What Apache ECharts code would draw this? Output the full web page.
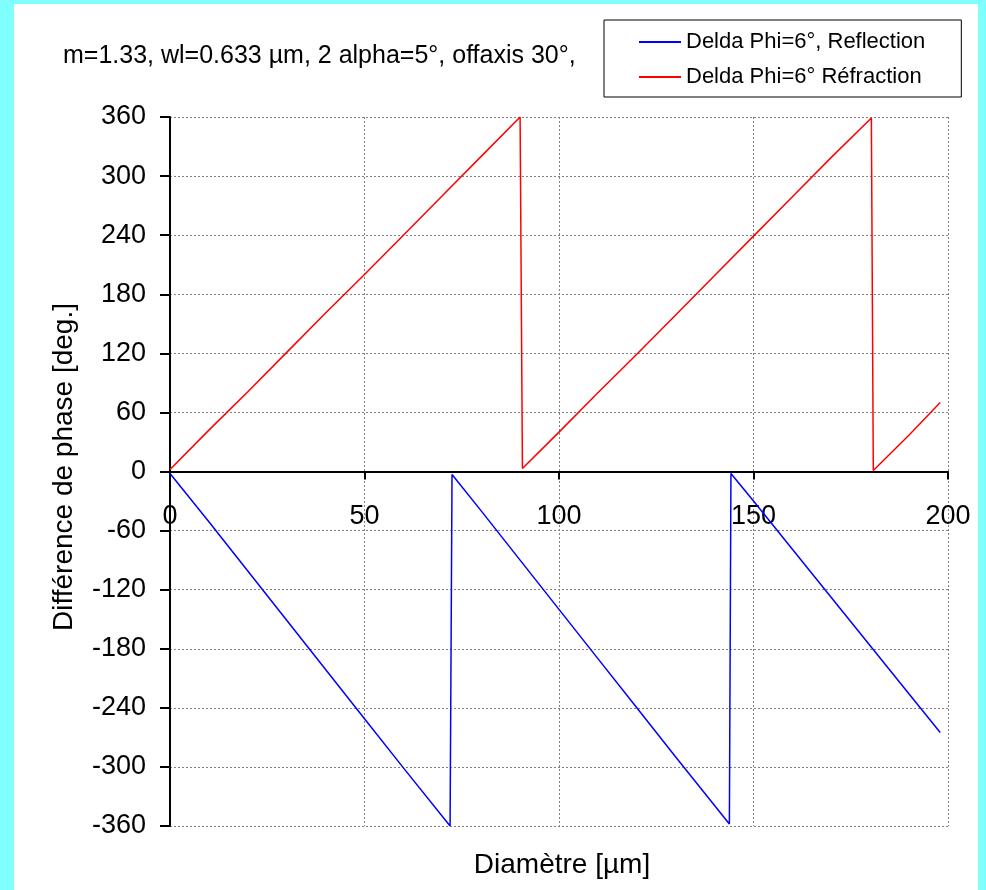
<!DOCTYPE html>
<html>
<head>
<meta charset="utf-8">
<script src="https://cdn.jsdelivr.net/npm/echarts@6/dist/echarts.min.js"></script>
<style>
  html, body { margin: 0; padding: 0; background: #80FFFF; }
  #bg { position: absolute; left: 14px; top: 4px; width: 964px; height: 886px; background: #ffffff; }
  #chart { position: absolute; left: 0; top: 0; width: 986px; height: 890px; }
</style>
</head>
<body>
<div id="bg"></div>
<div id="chart"></div>
<script>
// Data
const titleText = 'm=1.33, wl=0.633 µm, 2 alpha=5°, offaxis 30°,';
const xName = 'Diamètre [µm]';
const yName = 'Différence de phase [deg.]';
const seriesNames = ['Delda Phi=6°, Reflection', 'Delda Phi=6° Réfraction'];

// Réfraction (red): [diameter, phase]
const refractionPts = [
  [0, 2], [10, 42], [20, 81], [30, 121], [40, 161], [50, 200], [60, 240],
  [70, 280], [80, 320], [90, 360], [90.6, 3], [100, 40], [110, 80], [120, 119],
  [130, 159], [140, 199], [150, 239], [160, 279], [170, 319], [180.3, 359],
  [180.8, 1], [190, 37], [198, 70]
];
// Reflection (blue): [diameter, phase]
const reflectionPts = [
  [0, -2], [10, -51], [20, -101], [30, -151], [40, -201], [50, -251], [60, -301],
  [72, -360], [72.5, -3], [80, -40], [90, -90], [100, -140], [110, -190],
  [120, -240], [130, -290], [143.8, -358], [144.2, -2], [150, -30], [160, -79],
  [170, -128], [180, -177], [190, -226], [198, -265]
];

const FONT = '"Liberation Sans", Arial, sans-serif';
const chart = echarts.init(document.getElementById('chart'), null, { renderer: 'canvas' });

chart.setOption({
  backgroundColor: 'transparent',
  animation: false,
  title: {
    text: titleText,
    left: 58, top: 39,
    textStyle: { fontFamily: FONT, fontSize: 25, fontWeight: 'normal', color: '#000' }
  },
  legend: {
    orient: 'vertical',
    left: 604, top: 20,
    padding: [11, 36, 9, 35],
    itemGap: 13,
    icon: 'rect',
    itemWidth: 42, itemHeight: 2,
    backgroundColor: '#fff',
    borderColor: '#000', borderWidth: 1, borderRadius: 0,
    textStyle: { fontFamily: FONT, fontSize: 22, color: '#000' },
    data: seriesNames
  },
  grid: { left: 170, right: 38, top: 117, bottom: 64, containLabel: false },
  xAxis: {
    type: 'value', min: 0, max: 200, interval: 50,
    axisLine: { onZero: true, lineStyle: { color: '#000', width: 2 } },
    axisTick: { show: true, length: 8, lineStyle: { color: '#000', width: 2 } },
    axisLabel: { margin: -323, fontFamily: FONT, fontSize: 27, color: '#000' },
    splitLine: { show: true, lineStyle: { color: '#808080', type: [2, 2], width: 1 } }
  },
  yAxis: {
    type: 'value', min: -360, max: 360, interval: 60,
    axisLine: { show: true, lineStyle: { color: '#000', width: 2 } },
    axisTick: { show: true, length: 10, lineStyle: { color: '#000', width: 2 } },
    axisLabel: { margin: 24, fontFamily: FONT, fontSize: 27, color: '#000' },
    splitLine: { show: true, lineStyle: { color: '#808080', type: [2, 2], width: 1 } }
  },
  graphic: [
    {
      type: 'text', x: 562, y: 865,
      style: { text: xName, font: '28px ' + FONT, fill: '#000', align: 'center', verticalAlign: 'middle' }
    },
    {
      type: 'text', x: 64, y: 467, rotation: Math.PI / 2,
      style: { text: yName, font: '28px ' + FONT, fill: '#000', align: 'center', verticalAlign: 'middle' }
    }
  ],
  series: [
    {
      name: seriesNames[0], type: 'line', data: reflectionPts,
      symbol: 'none', lineStyle: { color: '#0000FF', width: 1.5 }, itemStyle: { color: '#0000FF' }
    },
    {
      name: seriesNames[1], type: 'line', data: refractionPts,
      symbol: 'none', lineStyle: { color: '#FF0000', width: 1.5 }, itemStyle: { color: '#FF0000' }
    }
  ]
});
</script>
</body>
</html>
